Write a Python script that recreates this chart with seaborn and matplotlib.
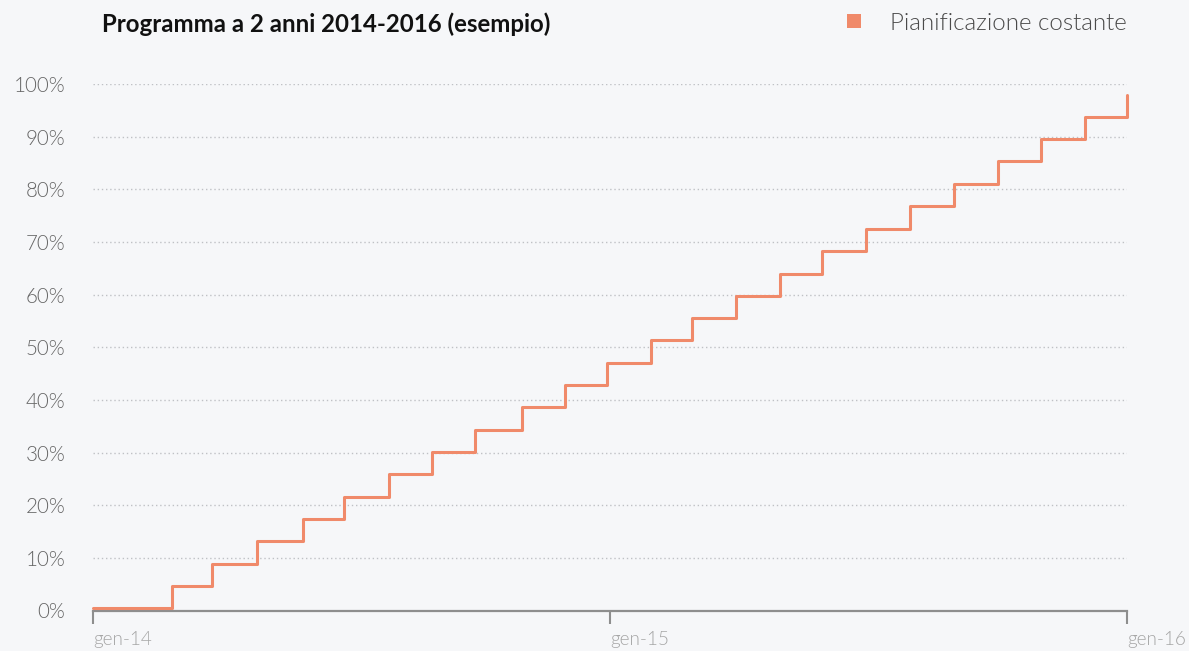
import matplotlib
matplotlib.use("Agg")
import matplotlib.pyplot as plt
import seaborn as sns
import pandas as pd

# ---- data ----
dates = ["2014-01-01", "2014-02-26", "2014-03-26", "2014-04-27", "2014-05-29",
         "2014-06-27", "2014-07-29", "2014-08-28", "2014-09-28", "2014-10-31",
         "2014-11-30", "2014-12-30", "2015-01-30", "2015-02-28", "2015-03-31",
         "2015-05-01", "2015-05-31", "2015-07-01", "2015-08-01", "2015-09-01",
         "2015-10-02", "2015-11-01", "2015-12-02", "2016-01-01"]
values = [0.4, 4.7, 8.9, 13.2, 17.4, 21.6, 25.9, 30.1, 34.3, 38.6, 42.8, 47.1,
          51.3, 55.5, 59.8, 64.0, 68.3, 72.5, 76.8, 81.0, 85.3, 89.5, 93.7, 98.0]
series_name = "Pianificazione costante"
title = "Programma a 2 anni 2014-2016 (esempio)"
x_ticks = ["2014-01-01", "2015-01-01", "2016-01-01"]
x_tick_labels = ["gen-14", "gen-15", "gen-16"]
y_ticks = [0, 10, 20, 30, 40, 50, 60, 70, 80, 90, 100]

df = pd.DataFrame({"data": pd.to_datetime(dates), "valore": values})

BG = "#f6f7f9"
LINE = "#f08a6a"
FONT = ["Lato", "DejaVu Sans"]

sns.set_style("white")
plt.rcParams["font.family"] = FONT

fig = plt.figure(figsize=(11.89, 6.51), dpi=100, facecolor=BG)
ax = fig.add_axes([93 / 1189, 1 - 610.5 / 651, (1127 - 93) / 1189, (610.5 - 84) / 651])
ax.set_facecolor(BG)

sns.lineplot(data=df, x="data", y="valore", ax=ax, color=LINE, linewidth=2.2,
             drawstyle="steps-post", clip_on=False, zorder=3, legend=False)

ax.set_xlim(pd.Timestamp("2014-01-01"), pd.Timestamp("2016-01-01"))
ax.set_ylim(0, 100)

# dotted grid
for yv in y_ticks[1:]:
    ax.axhline(yv, color="#bfc1c5", linewidth=1.0, linestyle=(0, (1, 2)), zorder=1)

for s in ["top", "right", "left"]:
    ax.spines[s].set_visible(False)
ax.spines["bottom"].set_color("#8e8e8e")
ax.spines["bottom"].set_linewidth(1.6)
ax.spines["bottom"].set_zorder(2)

ax.set_xticks(pd.to_datetime(x_ticks))
ax.set_xticklabels(x_tick_labels, ha="left", color="#a6a6a6", fontsize=13.7,
                   fontweight=300)
ax.tick_params(axis="x", bottom=True, direction="out", length=9, width=1.5,
               color="#8e8e8e", pad=6)

ax.set_yticks(y_ticks)
ax.set_yticklabels([f"{v}%" for v in y_ticks], color="#666666", fontsize=14.8,
                   fontweight=300)
ax.tick_params(axis="y", left=False, length=0, pad=20)
ax.set_xlabel("")
ax.set_ylabel("")

fig.text(102 / 1189, 1 - 24 / 651, title, fontsize=17.3, fontweight="bold",
         color="#111111", va="center", ha="left")

# legend
fig.patches.append(plt.Rectangle((847 / 1189, 1 - 28 / 651), 14 / 1189, 14 / 651,
                                 transform=fig.transFigure, facecolor=LINE,
                                 edgecolor="none"))
fig.text(890 / 1189, 1 - 23 / 651, series_name, fontsize=17.4, fontweight=300,
         color="#4a4a4a", va="center", ha="left")

fig.savefig("out.png", dpi=100, facecolor=BG)
